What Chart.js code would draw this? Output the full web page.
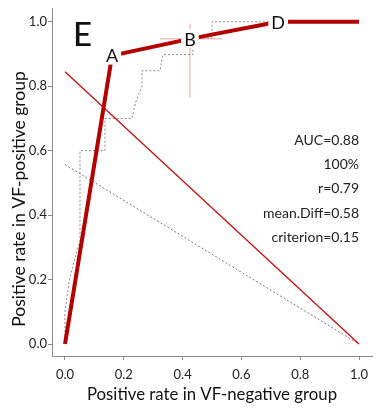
<!DOCTYPE html>
<html>
<head>
<meta charset="utf-8">
<script src="https://cdn.jsdelivr.net/npm/chart.js@4.4.1/dist/chart.umd.min.js"></script>
<style>
  html, body { margin: 0; padding: 0; background: #fff; }
  #wrap { width: 376px; height: 412px; }
</style>
</head>
<body>
<div id="wrap"><canvas id="roc"></canvas></div>
<script>
// ---------- data ----------
const tickVals = [0, 0.2, 0.4, 0.6, 0.8, 1.0];

// empirical ROC (dotted step curve)
const rocX = [0, 0, 0.015, 0.035, 0.051, 0.051, 0.136, 0.136, 0.228, 0.24, 0.262, 0.262, 0.323, 0.333, 0.435, 0.435, 0.5, 0.5, 1.0];
const rocY = [0, 0.1, 0.2, 0.27, 0.32, 0.6, 0.6, 0.7, 0.7, 0.75, 0.8, 0.848, 0.848, 0.898, 0.898, 0.95, 0.95, 1.0, 1.0];

// fitted segments through A, B, D
const fitX = [0, 0.16, 0.425, 0.725, 1.0];
const fitY = [0, 0.895, 0.947, 1.0, 1.0];
const fitLabels = ["", "A", "B", "D", ""];

// straight lines
const redLineX = [0, 1];
const redLineY = [0.845, 0];
const grayLineX = [0, 1];
const grayLineY = [0.557, 0];

// interval cross at B
const ciHX = [0.323, 0.534];
const ciVY = [0.765, 0.994];

const stats = ["AUC=0.88", "100%", "r=0.79", "mean.Diff=0.58", "criterion=0.15"];
const statsY = [0.632, 0.557, 0.483, 0.405, 0.331];
const panelLabel = "E";
const xTitle = "Positive rate in VF-negative group";
const yTitle = "Positive rate in VF-positive group";

const FONT = "Lato, 'Open Sans', sans-serif";

const pts = (xs, ys) => xs.map((x, i) => ({ x, y: ys[i] }));

/* ---------- labels plugin ---------- */
const labelPlugin = {
  id: "labels",
  afterDatasetsDraw(chart) {
    const { ctx, scales, chartArea } = chart;
    const xs = scales.x, ys = scales.y;
    ctx.save();
    ctx.textBaseline = "middle";
    ctx.textAlign = "center";
    ctx.font = "18px " + FONT;
    fitLabels.forEach((lab, i) => {
      if (!lab) return;
      const px = xs.getPixelForValue(fitX[i]);
      const py = ys.getPixelForValue(fitY[i]);
      const w = ctx.measureText(lab).width;
      ctx.fillStyle = "#fff";
      ctx.fillRect(px - w / 2 - 3, py - 10, w + 6, 19);
      ctx.fillStyle = "#111";
      ctx.fillText(lab, px, py + 1);
    });

    ctx.font = "500 33px " + FONT;
    ctx.fillStyle = "#111";
    ctx.fillText(panelLabel, xs.getPixelForValue(0.06), ys.getPixelForValue(0.958));

    ctx.font = "14px " + FONT;
    ctx.textAlign = "right";
    ctx.fillStyle = "#222";
    stats.forEach((s, i) => {
      ctx.fillText(s, xs.getPixelForValue(1.0), ys.getPixelForValue(statsY[i]));
    });

    // axis titles
    ctx.fillStyle = "#111";
    ctx.textAlign = "center";
    ctx.textBaseline = "alphabetic";
    ctx.font = "16.8px " + FONT;
    ctx.fillText(xTitle, (chartArea.left + chartArea.right) / 2, chartArea.bottom + 44);

    ctx.font = "17.5px " + FONT;
    ctx.translate(25, ys.getPixelForValue(0.45));
    ctx.rotate(-Math.PI / 2);
    ctx.fillText(yTitle, 0, 0);
    ctx.restore();
  },
};

const axisCommon = {
  type: "linear",
  border: { display: true, color: "#8a8a8a", width: 1 },
  grid: { display: true, drawOnChartArea: false, drawTicks: true, tickLength: 4, color: "#8a8a8a" },
  ticks: {
    color: "#222",
    font: { family: FONT, size: 13 },
    callback: (v) => Number(v).toFixed(1),
  },
  afterBuildTicks: (scale) => {
    scale.ticks = tickVals.map((v) => ({ value: v }));
  },
};

new Chart(document.getElementById("roc"), {
  type: "scatter",
  data: {
    datasets: [
      {
        data: pts(fitX, fitY),
        showLine: true,
        borderColor: "#b30000",
        borderWidth: 4,
        pointRadius: 0,
        order: 1,
      },
      {
        data: pts(redLineX, redLineY),
        showLine: true,
        borderColor: "#c01010",
        borderWidth: 1.3,
        pointRadius: 0,
        order: 2,
      },
      {
        data: pts(grayLineX, grayLineY),
        showLine: true,
        borderColor: "#777",
        borderWidth: 1,
        borderDash: [2, 2],
        pointRadius: 0,
        order: 3,
      },
      {
        data: pts(rocX, rocY),
        showLine: true,
        borderColor: "#888",
        borderWidth: 1,
        borderDash: [2, 2],
        pointRadius: 0,
        order: 4,
      },
      {
        data: pts(ciHX, [fitY[2], fitY[2]]),
        showLine: true,
        borderColor: "#e9a3a3",
        borderWidth: 1,
        pointRadius: 0,
        order: 5,
      },
      {
        data: pts([fitX[2], fitX[2]], ciVY),
        showLine: true,
        borderColor: "#e9a3a3",
        borderWidth: 1,
        pointRadius: 0,
        order: 5,
      },
    ],
  },
  options: {
    responsive: true,
    maintainAspectRatio: false,
    devicePixelRatio: 1,
    animation: false,
    layout: { padding: { top: 8, right: 4, left: 0, bottom: 0 } },
    plugins: { legend: { display: false }, tooltip: { enabled: false } },
    scales: {
      x: {
        ...axisCommon,
        position: "bottom",
        min: -0.0442,
        max: 1.0442,
        ticks: { ...axisCommon.ticks, padding: 7, maxRotation: 0 },
        afterFit: (scale) => { scale.height = 56; },
      },
      y: {
        ...axisCommon,
        position: "left",
        min: -0.0372,
        max: 1.0402,
        ticks: { ...axisCommon.ticks, padding: 1 },
        afterFit: (scale) => { scale.width = 52; },
      },
    },
  },
  plugins: [labelPlugin],
});
</script>
</body>
</html>
